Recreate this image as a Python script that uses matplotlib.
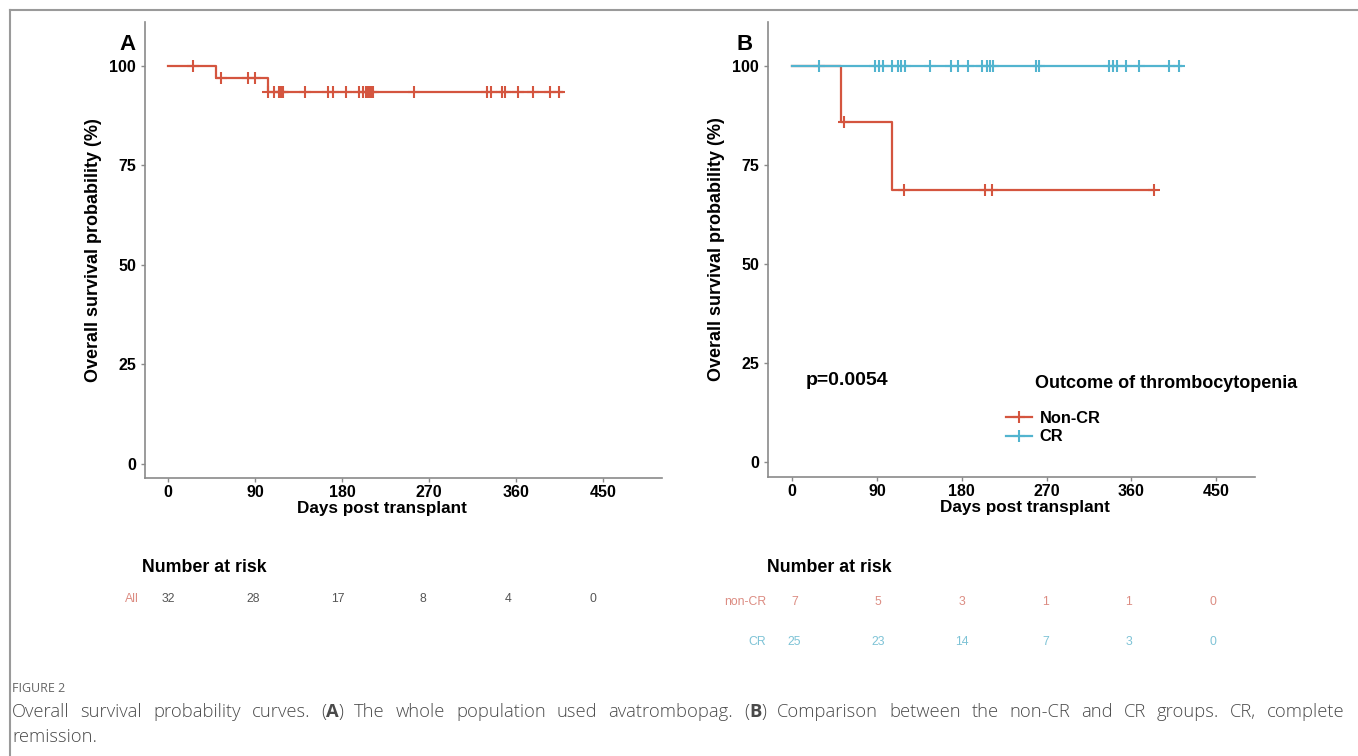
import numpy as np
import matplotlib
matplotlib.use("Agg")
import matplotlib.pyplot as plt
from matplotlib.lines import Line2D
from matplotlib.transforms import IdentityTransform

plt.rcParams['font.family'] = ['Liberation Sans', 'DejaVu Sans']

# ---- data ----
# panel A: whole population
a_times = [0, 49, 103, 408]
a_surv = [100, 96.9, 93.3, 93.3]
a_cens = [26, 55, 83, 90, 103.5, 110, 115, 116, 117.6, 119, 141.7, 165.8, 171,
          183.8, 197, 202, 205, 206.5, 208, 209.7, 212, 254, 330, 334, 345,
          348.6, 362, 377, 395, 404]

# panel B: non-CR vs CR
ncr_times = [0, 52, 106, 384]
ncr_surv = [100, 85.7, 68.6, 68.6]
ncr_cens = [55, 119, 205, 211.6, 384]

cr_times = [0, 412]
cr_surv = [100, 100]
cr_cens = [29, 88, 92.7, 96, 105.8, 112.8, 116, 120, 146.5, 168.4, 176.5,
           187, 201, 207, 210, 212.9, 259, 262, 335.7, 340.3, 345, 354.4,
           367.5, 399.3, 409.9]

risk_times = [0, 90, 180, 270, 360, 450]
risk_all = [32, 28, 17, 8, 4, 0]
risk_ncr = [7, 5, 3, 1, 1, 0]
risk_cr = [25, 23, 14, 7, 3, 0]

RED = '#D4553F'
BLUE = '#52B4CF'
RED_T = '#DC8C82'
BLUE_T = '#7EC3D6'

W, H = 1358, 756
fig = plt.figure(figsize=(W / 100, H / 100), dpi=100)


def px_axes(l, r, t, b):
    return fig.add_axes([l / W, (H - b) / H, (r - l) / W, (b - t) / H])


def step_at(times, surv, t):
    i = np.searchsorted(times, t, side='right') - 1
    return np.array(surv)[i]


def km_panel(ax, curves, xlim, ylim):
    for times, surv, cens, col in curves:
        ax.step(times, surv, where='post', color=col, lw=1.6)
        ax.plot(cens, step_at(times, surv, cens), ls='none', marker='+',
                ms=8, mew=1.5, color=col)
    ax.set_xlim(*xlim)
    ax.set_ylim(*ylim)
    ax.set_xticks(risk_times)
    ax.set_yticks([0, 25, 50, 75, 100])
    for s in ['top', 'right']:
        ax.spines[s].set_visible(False)
    for s in ['left', 'bottom']:
        ax.spines[s].set_color('#8a8a8a')
        ax.spines[s].set_linewidth(1.2)
    ax.tick_params(colors='#8a8a8a', length=3, width=1, labelcolor='black',
                   labelsize=11.5)
    ax.tick_params(axis='x', pad=2)
    for lab in ax.get_xticklabels() + ax.get_yticklabels():
        lab.set_fontweight('bold')
    ax.set_ylabel('Overall survival probability (%)', fontsize=13,
                  fontweight='bold')
    ax.set_xlabel('Days post transplant', fontsize=12.3, fontweight='bold')


# panel A
axA = px_axes(145, 662, 22, 478)
km_panel(axA, [(a_times, a_surv, a_cens, RED)], (-24, 511), (-3.5, 111))
axA.yaxis.set_label_coords(-0.083, 0.5)
axA.xaxis.set_label_coords(0.458, -0.05)

# panel B
axB = px_axes(768, 1255, 22, 477)
km_panel(axB, [(ncr_times, ncr_surv, ncr_cens, RED),
               (cr_times, cr_surv, cr_cens, BLUE)], (-25.5, 491), (-3.8, 111))
axB.yaxis.set_label_coords(-0.089, 0.5)
axB.xaxis.set_label_coords(0.528, -0.05)
axB.text(14, 20.5, 'p=0.0054', fontsize=14, fontweight='bold', va='center')

handles = [Line2D([], [], color=RED, marker='+', ms=8, mew=1.5, lw=1.6),
           Line2D([], [], color=BLUE, marker='+', ms=8, mew=1.5, lw=1.6)]
fig.legend(handles, ['Non-CR', 'CR'], loc='upper left',
           bbox_to_anchor=(998 / W, (H - 403) / H), frameon=False,
           prop={'weight': 'bold', 'size': 11.8}, handlelength=1.6,
           handletextpad=0.45, labelspacing=0.2, borderpad=0)
fig.text(1035 / W, (H - 383) / H, 'Outcome of thrombocytopenia', fontsize=13,
         fontweight='bold', va='center')

# panel letters
fig.text(127 / W, (H - 45) / H, 'A', fontsize=16, fontweight='bold',
         ha='center', va='center')
fig.text(745 / W, (H - 45) / H, 'B', fontsize=16, fontweight='bold',
         ha='center', va='center')

# risk tables
tA = px_axes(145, 662, 550, 660)
tA.set_xlim((145 - 168) / 0.9444, (662 - 168) / 0.9444)
tA.set_ylim(660, 550)
tA.axis('off')
tA.text((142 - 168) / 0.9444, 567, 'Number at risk', fontsize=12.8,
        fontweight='bold', va='center', ha='left')
tA.text((139 - 168) / 0.9444, 599, 'All', fontsize=8.8, color=RED_T,
        ha='right', va='center')
for t, n in zip(risk_times, risk_all):
    tA.text(t, 599, str(n), fontsize=8.8, color='#555555', ha='center',
            va='center')

tB = px_axes(768, 1255, 550, 660)
tB.set_xlim((768 - 794.6) / 0.9287, (1255 - 794.6) / 0.9287)
tB.set_ylim(660, 550)
tB.axis('off')
tB.text((767 - 794.6) / 0.9287, 567, 'Number at risk', fontsize=12.8,
        fontweight='bold', va='center', ha='left')
tB.text((766 - 794.6) / 0.9287, 602, 'non-CR', fontsize=8.8, color=RED_T,
        ha='right', va='center')
tB.text((766 - 794.6) / 0.9287, 642, 'CR', fontsize=8.8, color=BLUE_T,
        ha='right', va='center')
for t, n1, n2 in zip(risk_times, risk_ncr, risk_cr):
    tB.text(t, 602, str(n1), fontsize=8.8, color=RED_T, ha='center', va='center')
    tB.text(t, 642, str(n2), fontsize=8.8, color=BLUE_T, ha='center', va='center')

# frame around figure panel (open at right/bottom)
fig.add_artist(Line2D([10, W], [H - 10, H - 10], transform=IdentityTransform(),
                      color='#9a9a9a', lw=1.5))
fig.add_artist(Line2D([10, 10], [0, H - 10], transform=IdentityTransform(),
                      color='#9a9a9a', lw=1.5))

# caption
fig.text(12, H - 688, 'FIGURE 2', transform=IdentityTransform(), fontsize=9,
         color='#666666', va='center', family=['Open Sans', 'DejaVu Sans'])

cap_kw = dict(fontsize=13.2, color='#4a4a4a', va='center',
              family=['Open Sans', 'DejaVu Sans'])
line1 = [[('Overall', 'light')], [('survival', 'light')],
         [('probability', 'light')], [('curves.', 'light')],
         [('(', 'light'), ('A', 'bold'), (')', 'light')], [('The', 'light')],
         [('whole', 'light')], [('population', 'light')], [('used', 'light')],
         [('avatrombopag.', 'light')],
         [('(', 'light'), ('B', 'bold'), (')', 'light')],
         [('Comparison', 'light')], [('between', 'light')], [('the', 'light')],
         [('non-CR', 'light')], [('and', 'light')], [('CR', 'light')],
         [('groups.', 'light')], [('CR,', 'light')], [('complete', 'light')]]

r = fig.canvas.get_renderer()
words = []
for w in line1:
    segs = []
    for s, wt in w:
        t = fig.text(0, H - 712, s, transform=IdentityTransform(),
                     fontweight=wt, **cap_kw)
        segs.append((t, t.get_window_extent(r).width))
    words.append(segs)
total = sum(wd for segs in words for _, wd in segs)
gap = (1345 - 12 - total) / (len(words) - 1)
x = 12
for segs in words:
    for t, wd in segs:
        t.set_x(x)
        x += wd
    x += gap
fig.text(12, H - 737, 'remission.', transform=IdentityTransform(),
         fontweight='light', **cap_kw)

fig.savefig('out.png', dpi=100)
